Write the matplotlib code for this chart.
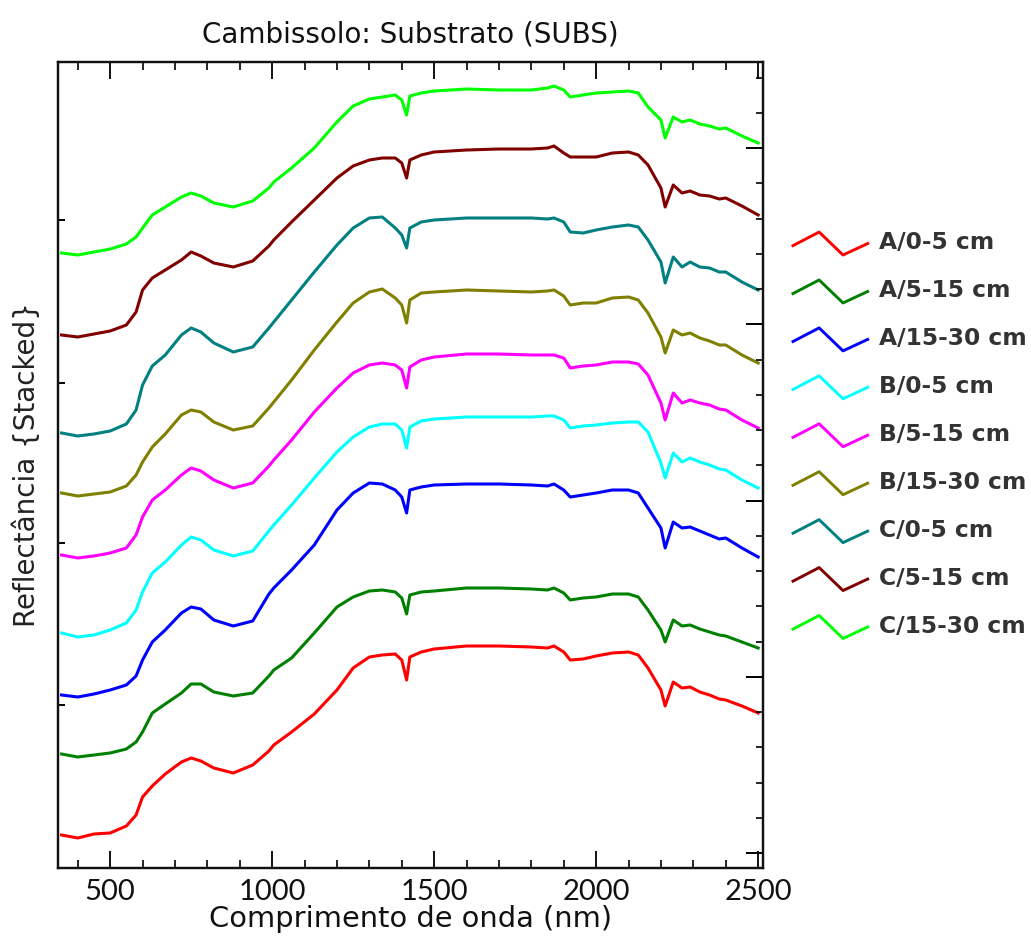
import matplotlib
matplotlib.use("Agg")
import matplotlib.pyplot as plt
from matplotlib.legend_handler import HandlerBase
from matplotlib.lines import Line2D
from matplotlib.ticker import MultipleLocator, FixedLocator, NullFormatter
import numpy as np

# ---------------- data (stacked reflectance, arbitrary units) ----------------
wavelength = [350, 400, 450, 500, 550, 580, 600, 630, 670, 720,
              750, 780, 820, 880, 940, 990, 1005, 1060, 1130, 1200,
              1250, 1300, 1340, 1380, 1400, 1415, 1425, 1460, 1500, 1600,
              1700, 1800, 1850, 1870, 1900, 1920, 1960, 2000, 2050, 2100,
              2130, 2160, 2200, 2213, 2238, 2265, 2290, 2320, 2350, 2380,
              2400, 2450, 2500]

labels = ["A/0-5 cm", "A/5-15 cm", "A/15-30 cm", "B/0-5 cm", "B/5-15 cm",
          "B/15-30 cm", "C/0-5 cm", "C/5-15 cm", "C/15-30 cm"]

a_0_5 = [33, 30, 34, 35, 42, 53, 71, 82, 94, 106,
         110, 107, 100, 95, 103, 117, 123, 136, 154, 178,
         200, 211, 213, 214, 208, 188, 211, 216, 219, 222,
         222, 221, 220, 222, 216, 208, 209, 212, 215, 216,
         213, 200, 178, 162, 186, 180, 181, 176, 173, 169,
         168, 162, 155]
a_5_15 = [114, 111, 113, 115, 119, 126, 136, 155, 164, 175,
          184, 184, 176, 172, 175, 192, 198, 210, 235, 261,
          271, 277, 278, 276, 270, 254, 273, 276, 277, 280,
          280, 279, 278, 280, 275, 268, 270, 271, 274, 274,
          271, 258, 238, 226, 248, 242, 243, 239, 236, 233,
          232, 226, 220]
a_15_30 = [173, 171, 174, 178, 183, 192, 208, 226, 238, 255,
           261, 259, 248, 242, 247, 274, 280, 298, 323, 358,
           375, 385, 384, 378, 371, 355, 378, 381, 383, 384,
           384, 383, 382, 384, 378, 371, 373, 375, 378, 378,
           375, 360, 340, 320, 346, 340, 341, 337, 333, 329,
           330, 320, 311]
b_0_5 = [235, 231, 233, 238, 245, 258, 276, 295, 306, 323,
         331, 328, 318, 312, 317, 337, 343, 363, 390, 416,
         431, 441, 444, 444, 438, 420, 441, 447, 449, 451,
         451, 451, 452, 452, 448, 440, 442, 443, 445, 446,
         446, 436, 405, 390, 415, 406, 410, 406, 403, 399,
         398, 388, 380]
b_5_15 = [313, 310, 312, 315, 320, 333, 351, 368, 378, 393,
          400, 397, 388, 380, 385, 402, 408, 428, 456, 480,
          495, 503, 505, 503, 498, 480, 501, 508, 511, 514,
          514, 513, 513, 513, 510, 500, 502, 503, 506, 506,
          504, 493, 465, 448, 475, 465, 468, 465, 463, 459,
          458, 448, 440]
b_15_30 = [375, 372, 374, 376, 382, 393, 406, 421, 434, 453,
           458, 456, 446, 438, 442, 460, 466, 488, 518, 546,
           565, 576, 579, 570, 563, 545, 568, 575, 576, 578,
           577, 576, 577, 578, 572, 563, 565, 565, 570, 571,
           568, 555, 531, 515, 538, 533, 535, 530, 527, 523,
           523, 513, 505]
c_0_5 = [435, 432, 434, 437, 444, 458, 483, 502, 513, 533,
         540, 536, 525, 516, 521, 540, 546, 568, 596, 623,
         640, 650, 651, 640, 633, 620, 640, 646, 648, 650,
         650, 650, 649, 650, 646, 636, 635, 638, 641, 643,
         641, 628, 606, 585, 611, 601, 606, 601, 600, 596,
         596, 586, 578]
c_5_15 = [533, 531, 534, 537, 543, 556, 578, 590, 598, 608,
          616, 612, 605, 601, 607, 622, 628, 646, 668, 690,
          702, 708, 710, 710, 705, 690, 708, 713, 716, 718,
          719, 719, 720, 722, 715, 711, 711, 711, 715, 716,
          713, 703, 680, 661, 683, 675, 677, 673, 672, 669,
          670, 662, 653]
c_15_30 = [615, 613, 616, 619, 624, 631, 640, 653, 661, 671,
           675, 672, 665, 661, 667, 680, 686, 700, 720, 746,
           762, 769, 771, 773, 768, 753, 772, 775, 777, 779,
           778, 778, 780, 782, 778, 771, 773, 775, 776, 777,
           775, 761, 748, 730, 751, 746, 748, 744, 742, 739,
           740, 732, 725]

series = [a_0_5, a_5_15, a_15_30, b_0_5, b_5_15, b_15_30, c_0_5, c_5_15, c_15_30]
colors = ["#FF0000", "#008000", "#0000FF", "#00FFFF", "#FF00FF",
          "#808000", "#008080", "#800000", "#00FF00"]

# ---------------- figure ----------------
W, H = 1031, 943
fig = plt.figure(figsize=(W / 100, H / 100), dpi=100)
ax = fig.add_axes([58 / W, 1 - 868 / H, (763 - 58) / W, (868 - 62) / H])

handles = []
for vals, col, lab in zip(series, colors, labels):
    ln, = ax.plot(wavelength, vals, color=col, lw=2.2, label=lab)
    handles.append(ln)

ax.set_xlim(339, 2515)
ax.set_ylim(0, 806)

for sp in ax.spines.values():
    sp.set_linewidth(1.6)
    sp.set_color("#111111")

ax.xaxis.set_major_locator(MultipleLocator(500))
ax.xaxis.set_minor_locator(MultipleLocator(100))
ax.tick_params(axis="x", which="major", direction="in", length=12, width=1.4,
               top=True, bottom=True, labelsize=21, pad=8, colors="#111111")
ax.tick_params(axis="x", which="minor", direction="in", length=6, width=1.2,
               top=True, bottom=True)
for t in ax.get_xticklabels():
    t.set_fontfamily("Lato")

# left y ticks (no labels)
ax.yaxis.set_major_locator(FixedLocator([163, 325, 485, 648]))
ax.yaxis.set_major_formatter(NullFormatter())
ax.tick_params(axis="y", which="major", direction="in", length=5, width=1.4,
               left=True, right=False)

# right y ticks
ax2 = ax.twinx()
ax2.set_ylim(ax.get_ylim())
ax2.yaxis.set_major_locator(FixedLocator([15, 191, 367, 544, 720]))
ax2.yaxis.set_minor_locator(FixedLocator([15 + 35.25 * i for i in range(23)]))
ax2.yaxis.set_major_formatter(NullFormatter())
ax2.tick_params(axis="y", which="major", direction="in", length=12, width=1.4)
ax2.tick_params(axis="y", which="minor", direction="in", length=5, width=1.2)
for sp in ax2.spines.values():
    sp.set_linewidth(1.6)
    sp.set_color("#111111")

ax.set_xlabel("Comprimento de onda (nm)", fontsize=20.8, family="DejaVu Sans",
              color="#111111", labelpad=0)
ax.set_ylabel("Reflectância {Stacked}", fontsize=20, family="DejaVu Sans",
              color="#222222", labelpad=9)
ax.set_title("Cambissolo: Substrato (SUBS)", fontsize=20, family="DejaVu Sans",
             color="#111111", pad=14)


class ZigZag(HandlerBase):
    def create_artists(self, legend, orig_handle, xdescent, ydescent,
                       width, height, fontsize, trans):
        xs = np.array([0.0, 0.35, 0.67, 1.0]) * width - xdescent
        ys = np.array([0.3, 0.95, -0.15, 0.4]) * height - ydescent
        ln = Line2D(xs, ys, color=orig_handle.get_color(), lw=2.1)
        ln.set_transform(trans)
        return [ln]


fig.legend(handles=handles, labels=labels, loc="upper left",
           bbox_to_anchor=(793 / W, 1 - 231 / H), frameon=False,
           prop={"family": "DejaVu Sans", "weight": "bold", "size": 16.8},
           labelcolor="#333333",
           handler_map={Line2D: ZigZag()}, handlelength=3.2, handleheight=1.0,
           handletextpad=0.5, labelspacing=1.05, borderpad=0, borderaxespad=0)

fig.savefig("out.png", dpi=100)
